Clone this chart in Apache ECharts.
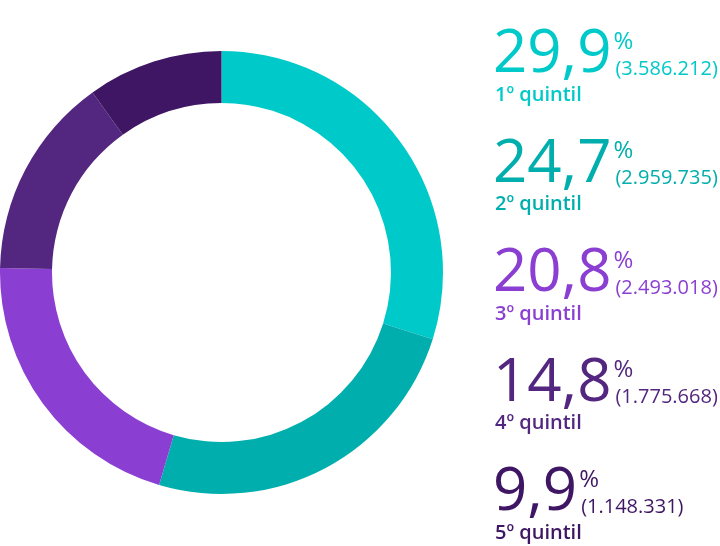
<!DOCTYPE html>
<html>
<head>
<meta charset="utf-8">
<script src="https://cdn.jsdelivr.net/npm/echarts@6/dist/echarts.min.js"></script>
<style>
html,body{margin:0;padding:0;background:#fff;}
#chart{width:720px;height:546px;}
</style>
</head>
<body>
<div id="chart"></div>
<script>
const categories = ['1º quintil', '2º quintil', '3º quintil', '4º quintil', '5º quintil'];
const percents = [29.9, 24.7, 20.8, 14.8, 9.9];
const counts = ['3.586.212', '2.959.735', '2.493.018', '1.775.668', '1.148.331'];
const colors = ['#00C9C9', '#00AFAD', '#8A3FD2', '#53267F', '#3F1664'];

const FONT = '"Open Sans", "Noto Sans", sans-serif';
const chart = echarts.init(document.getElementById('chart'), null, {renderer: 'canvas'});

const ctx = document.createElement('canvas').getContext('2d');
function textWidth(txt, size, weight) {
  ctx.font = weight + ' ' + size + 'px ' + FONT;
  return ctx.measureText(txt).width;
}

const BIG = 60, PCT = 24, SMALL = 20;
const graphics = [];
percents.forEach((p, i) => {
  const B = 75 + i * 109.5;
  const big = p.toFixed(1).replace('.', ',');
  const w = textWidth(big, BIG, 400);
  graphics.push({type: 'text', left: 493, top: B - 50,
    style: {text: big, fill: colors[i], font: '400 ' + BIG + 'px ' + FONT}});
  graphics.push({type: 'text', left: 493 + w + 2, top: B - 45,
    style: {text: '%', fill: colors[i], font: '400 ' + PCT + 'px ' + FONT}});
  graphics.push({type: 'text', left: 493 + w + 4, top: B - 16,
    style: {text: '(' + counts[i] + ')', fill: colors[i], font: '500 ' + SMALL + 'px ' + FONT}});
  graphics.push({type: 'text', left: 495, top: B + 10,
    style: {text: categories[i], fill: colors[i], font: '600 ' + SMALL + 'px ' + FONT}});
});

chart.setOption({
  animation: false,
  backgroundColor: '#ffffff',
  color: colors,
  series: [{
    type: 'pie',
    center: [221.5, 272.5],
    radius: [169.5, 221.5],
    startAngle: 90,
    clockwise: true,
    silent: true,
    label: {show: false},
    labelLine: {show: false},
    itemStyle: {borderWidth: 0},
    data: categories.map((c, i) => ({name: c, value: percents[i]}))
  }],
  graphic: graphics
});
</script>
</body>
</html>
